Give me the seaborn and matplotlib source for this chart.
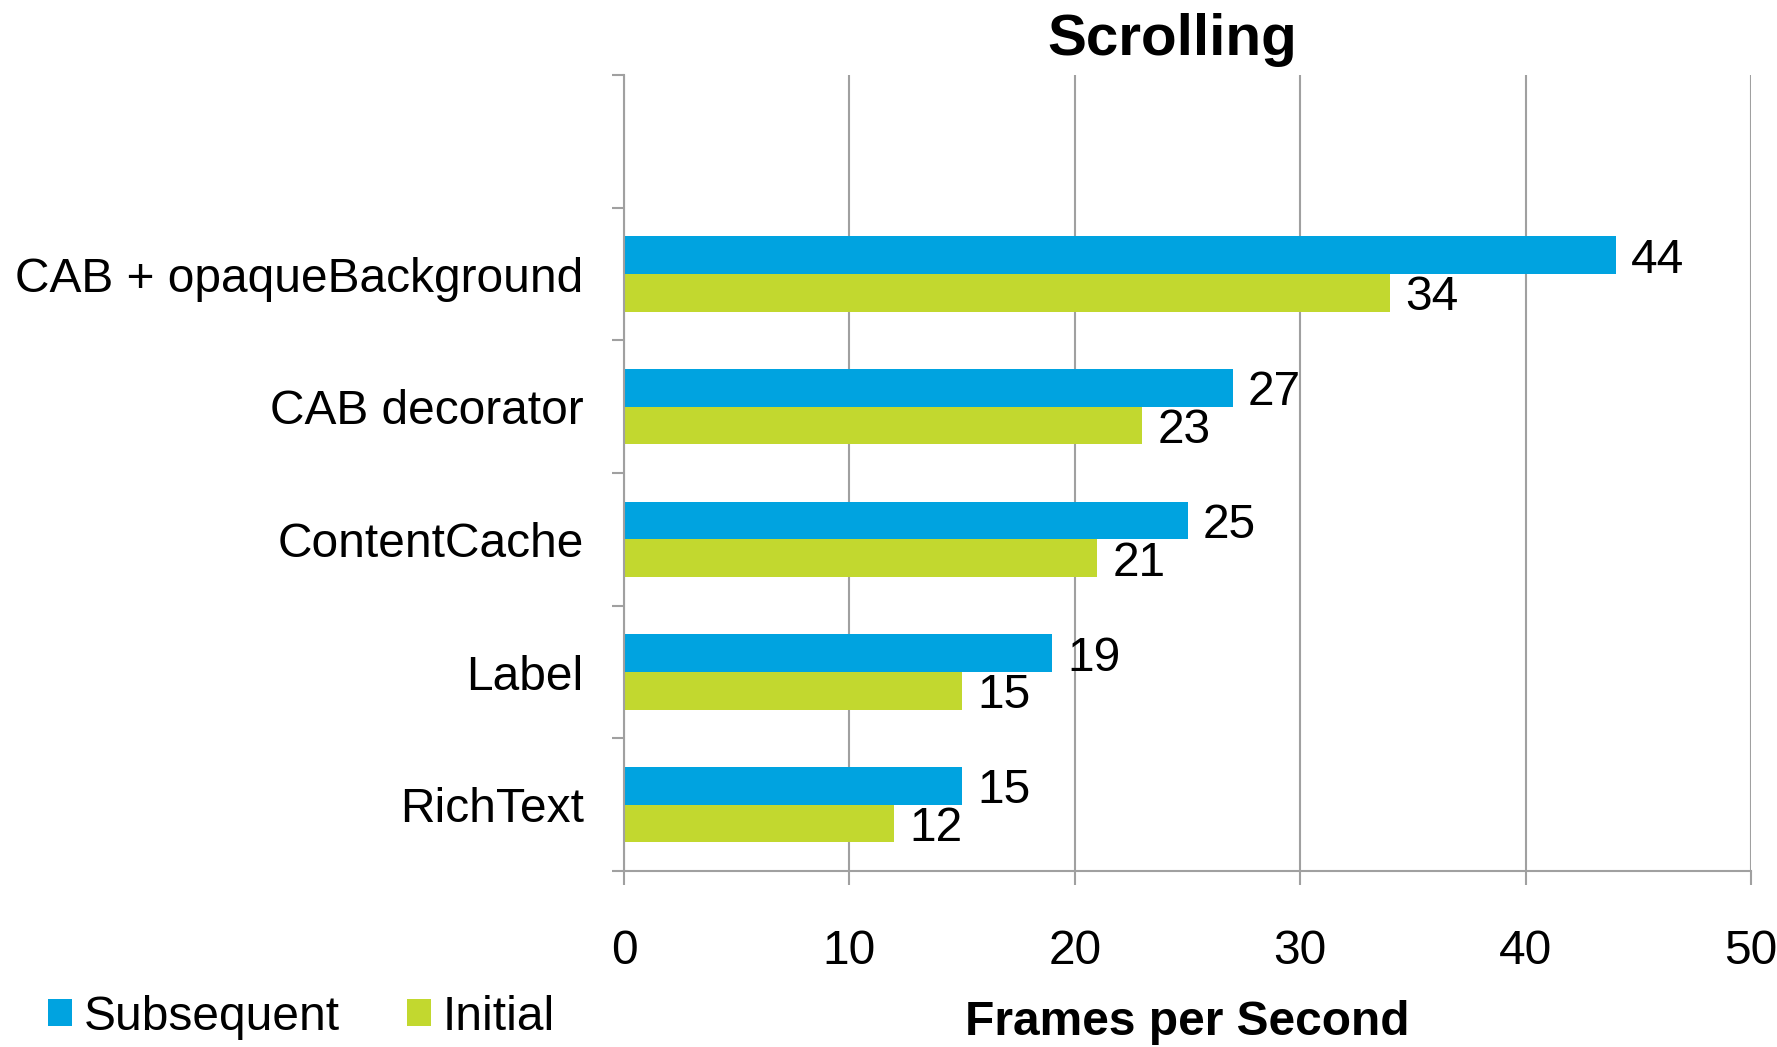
import pandas as pd
import seaborn as sns
import matplotlib.pyplot as plt
from matplotlib.ticker import FixedLocator

# chart data
categories = ['CAB + opaqueBackground', 'CAB decorator', 'ContentCache', 'Label', 'RichText']
subsequent = [44, 27, 25, 19, 15]
initial = [34, 23, 21, 15, 12]
series = ['Subsequent', 'Initial']
colors = ['#00A3E0', '#C2D82F']

df = pd.DataFrame({
    'Test': categories * 2,
    'FPS': subsequent + initial,
    'Series': ['Subsequent'] * len(categories) + ['Initial'] * len(categories),
})

sns.set_theme(style='white')
plt.rcParams['font.family'] = ['Liberation Sans', 'DejaVu Sans']
plt.rcParams['text.color'] = 'black'
plt.rcParams['xtick.labelcolor'] = 'black'
plt.rcParams['ytick.labelcolor'] = 'black'

fig = plt.figure(figsize=(17.77, 10.47), dpi=100)
ax = fig.add_axes([624 / 1777, 1 - 871 / 1047, (1751 - 624) / 1777, (871 - 75) / 1047])

sns.barplot(data=df, x='FPS', y='Test', hue='Series', hue_order=series,
            order=categories, palette=colors, saturation=1, orient='h',
            width=0.566, linewidth=0, ax=ax)

# data labels
for cont in ax.containers:
    for t in ax.bar_label(cont, fontsize=34.5, padding=11, color='black'):
        t.set_va('center_baseline')

# one empty slot above the first category
ax.set_ylim(len(categories) - 0.5, -1.5)
ax.set_xlim(0, 50)
ax.set_xticks(range(0, 51, 10))

grey = '#A0A0A0'
ax.grid(axis='x', color=grey, linewidth=1.5)
ax.grid(axis='y', visible=False)
ax.set_axisbelow(True)
for s in ['top', 'right']:
    ax.spines[s].set_visible(False)
for s in ['left', 'bottom']:
    ax.spines[s].set_color(grey)
    ax.spines[s].set_linewidth(1.5)

ax.yaxis.set_minor_locator(FixedLocator([i - 0.5 for i in range(-1, len(categories) + 1)]))
ax.tick_params(axis='y', which='major', length=0, pad=29, labelsize=34.5)
ax.tick_params(axis='y', which='minor', length=9, width=1.5, color=grey, left=True)
ax.tick_params(axis='x', which='major', length=10, width=1.5, color=grey,
               direction='out', bottom=True, pad=32, labelsize=34.5)
ax.set_xlabel('')
ax.set_ylabel('')

# legend at the bottom left
handles, labels = ax.get_legend_handles_labels()
ax.legend_.remove()
fig.legend(handles, labels, loc='center left', bbox_to_anchor=(48 / 1777, 1 - 1017 / 1047),
           ncol=2, frameon=False, fontsize=34.5, handlelength=0.5, handleheight=0.5,
           handletextpad=0.25, columnspacing=1.4, borderpad=0, borderaxespad=0)

fig.text(1172 / 1777, 1 - 40 / 1047, 'Scrolling', ha='center', va='center',
         fontsize=42, fontweight='bold')
fig.text(1187 / 1777, 2 / 1047, 'Frames per Second', ha='center', va='bottom',
         fontsize=34.5, fontweight='bold')

fig.savefig('out.png', dpi=100)
